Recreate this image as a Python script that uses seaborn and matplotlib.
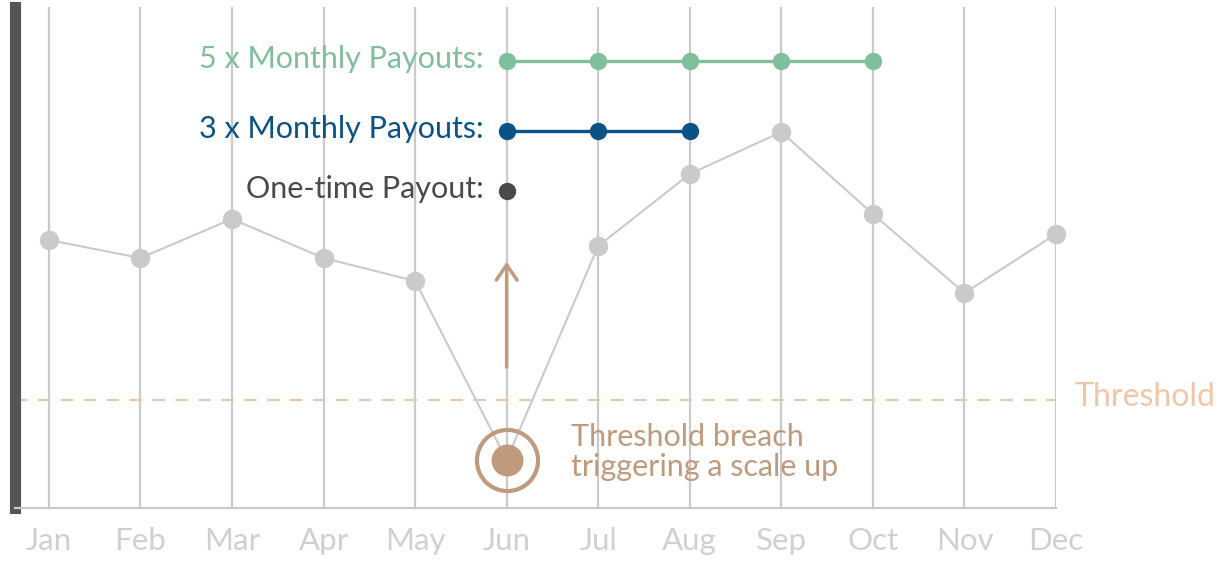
import pandas as pd
import seaborn as sns
import matplotlib.pyplot as plt

# Data
months = ['Jan', 'Feb', 'Mar', 'Apr', 'May', 'Jun', 'Jul', 'Aug', 'Sep', 'Oct', 'Nov', 'Dec']
values = [53.6, 50.0, 57.8, 50.0, 45.4, 9.6, 52.4, 66.8, 75.2, 58.8, 43.0, 54.8]
threshold = 21.6

payout_labels = ['5 x Monthly Payouts:', '3 x Monthly Payouts:', 'One-time Payout:']
payout_months = [['Jun', 'Jul', 'Aug', 'Sep', 'Oct'], ['Jun', 'Jul', 'Aug'], ['Jun']]
payout_levels = [89.4, 75.4, 63.4]
payout_colors = ['#80bf9c', '#0b5386', '#4a4a4a']

grey = '#cacaca'
tan = '#c09a7c'
peach = '#f1c6a6'

sns.set_style('white')
plt.rcParams['font.family'] = ['Lato', 'DejaVu Sans']

fig = plt.figure(figsize=(12.19, 5.61), dpi=100)
ax = fig.add_axes([15 / 1219, 53 / 561, (1056 - 15) / 1219, 501 / 561])

x = list(range(len(months)))
df = pd.DataFrame({'x': x, 'value': values})

# vertical gridlines
for xi in x:
    ax.axvline(xi, color=grey, lw=1.6, zorder=0)

# threshold
ax.axhline(threshold, color=peach, lw=1.5, ls=(0, (6, 5)), zorder=1)
ax.text(11.2, threshold + 0.6, 'Threshold', color=peach, fontsize=23, va='center', ha='left',
        clip_on=False)

# main series
sns.lineplot(data=df, x='x', y='value', color=grey, lw=1.5, marker='o', markersize=14,
             markeredgewidth=0, ax=ax, zorder=2, clip_on=False)

# payout rows
for lab, ms, lvl, col in zip(payout_labels, payout_months, payout_levels, payout_colors):
    d = pd.DataFrame({'x': [months.index(m) for m in ms], 'value': [lvl] * len(ms)})
    sns.lineplot(data=d, x='x', y='value', color=col, lw=2.4, marker='o', markersize=12.5,
                 markeredgewidth=0, ax=ax, zorder=3)
    ax.text(months.index('Jun') - 0.25, lvl + 0.4, lab, color=col, fontsize=22, ha='right',
            va='center')

# breach marker
jun = months.index('Jun')
ax.plot(jun, values[jun], 'o', color=tan, markersize=23, markeredgewidth=0, zorder=4)
ax.plot(jun, values[jun], 'o', markerfacecolor='none', markeredgecolor=tan, markersize=44,
        markeredgewidth=3, zorder=4)
ax.annotate('', xy=(jun, 49.8), xytext=(jun, 27.6),
            arrowprops=dict(arrowstyle='->,head_length=1.1,head_width=0.75', color=tan, lw=2.5))
ax.text(jun + 0.7, values[jun] + 1.6, 'Threshold breach\ntriggering a scale up', color=tan,
        fontsize=22, va='center', ha='left', linespacing=1.08)

ax.set_xlim(-0.37, 11)
ax.set_ylim(0, 100.2)
ax.set_xticks(x)
ax.set_xticklabels(months)
ax.set_yticks([])
ax.set_xlabel('')
ax.set_ylabel('')
ax.tick_params(axis='x', length=0, labelsize=22.5, labelcolor='#d0d0d0', pad=14)

for s in ['top', 'right']:
    ax.spines[s].set_visible(False)
ax.spines['left'].set_color('#555555')
ax.spines['left'].set_linewidth(8)
ax.spines['bottom'].set_color(grey)
ax.spines['bottom'].set_linewidth(1.6)

fig.savefig('out.png', dpi=100)
